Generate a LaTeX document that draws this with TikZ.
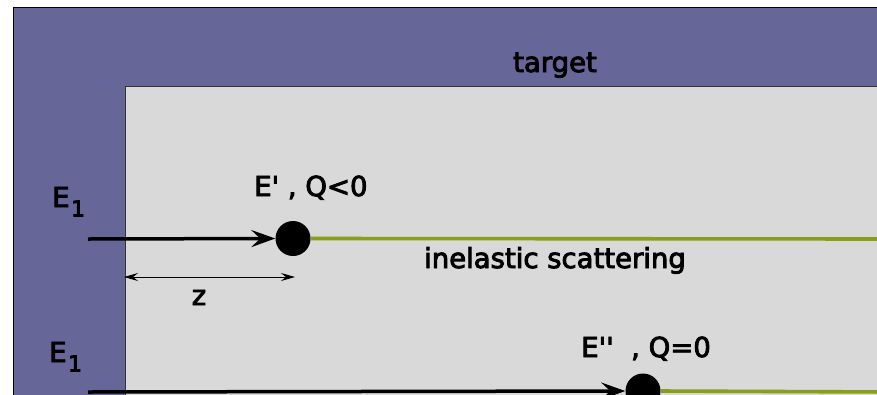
\documentclass[tikz,border=0pt]{standalone}
\usepackage{fontspec}
\setmainfont{DejaVu Sans}
\usetikzlibrary{arrows.meta}
\definecolor{tgtpurple}{HTML}{666699}
\definecolor{tgtgray}{HTML}{D9D9D9}
\definecolor{olive}{HTML}{88A014}
\newcommand{\heavy}[1]{\special{pdf:literal direct 2 Tr 0.9 w}#1\special{pdf:literal direct 0 Tr 0.4 w}}
\newcommand{\lblfont}{\fontsize{27.5}{30}\selectfont}
\newcommand{\subone}{\hspace{1.5pt}\raisebox{-9.5pt}{\fontsize{22}{24}\selectfont\heavy{1}}}
\tikzset{
  lbl/.style={font=\lblfont, inner sep=0pt, anchor=base},
  particle/.style={circle, fill=black, minimum size=35pt, inner sep=0pt},
  beam/.style={line width=3.5pt, -{Stealth[length=24pt,width=17pt,inset=9pt]}},
  outgoing/.style={line width=3.6pt, olive},
  dimline/.style={line width=0.9pt, {Stealth[length=14pt,width=8pt,inset=5pt]}-{Stealth[length=14pt,width=8pt,inset=5pt]}}
}
\begin{document}
\begin{tikzpicture}[x=1pt,y=-1pt]
\useasboundingbox (0,0) rectangle (877,394);
\fill[white] (0,0) rectangle (877,394);
\draw[fill=tgtpurple, line width=1pt] (13,7) rectangle (890,410);
\draw[fill=tgtgray, line width=0.8pt, draw=black!80] (125.5,86) rectangle (890,410);
\node[particle] (c1) at (293,238.5) {};
\node[particle] (c2) at (643,391) {};
\coordinate (s1) at (88,239);
\coordinate (s2) at (88,392);
\coordinate (e1) at (890,239);
\coordinate (e2) at (890,392);
\draw[beam] (s1) -- (c1.west);
\draw[beam] (s2) -- (c2.west);
\draw[outgoing] (c1.east) -- (e1);
\draw[outgoing] (c2.east) -- (e2);
\coordinate (d1) at (124,277);
\coordinate (d2) at (295,277);
\draw[dimline] (d1) -- (d2);
\node[lbl] (target) at (555,72) {\heavy{target}};
\node[lbl] (z) at (199,305) {\heavy{z}};
\node[lbl, anchor=base west] (E1a) at (52,207) {\heavy{E}\subone};
\node[lbl, anchor=base west] (E1b) at (49,362) {\heavy{E}\subone};
\node[lbl, anchor=base west] (Ep) at (254,196) {\heavy{E\textquotesingle\ , Q<0}};
\node[lbl, anchor=base west] (Epp) at (581,357) {\heavy{E\textquotesingle\textquotesingle\ \ , Q=0}};
\node[lbl] (inel) at (555,268) {\heavy{inelastic scattering}};
\end{tikzpicture}
\end{document}
